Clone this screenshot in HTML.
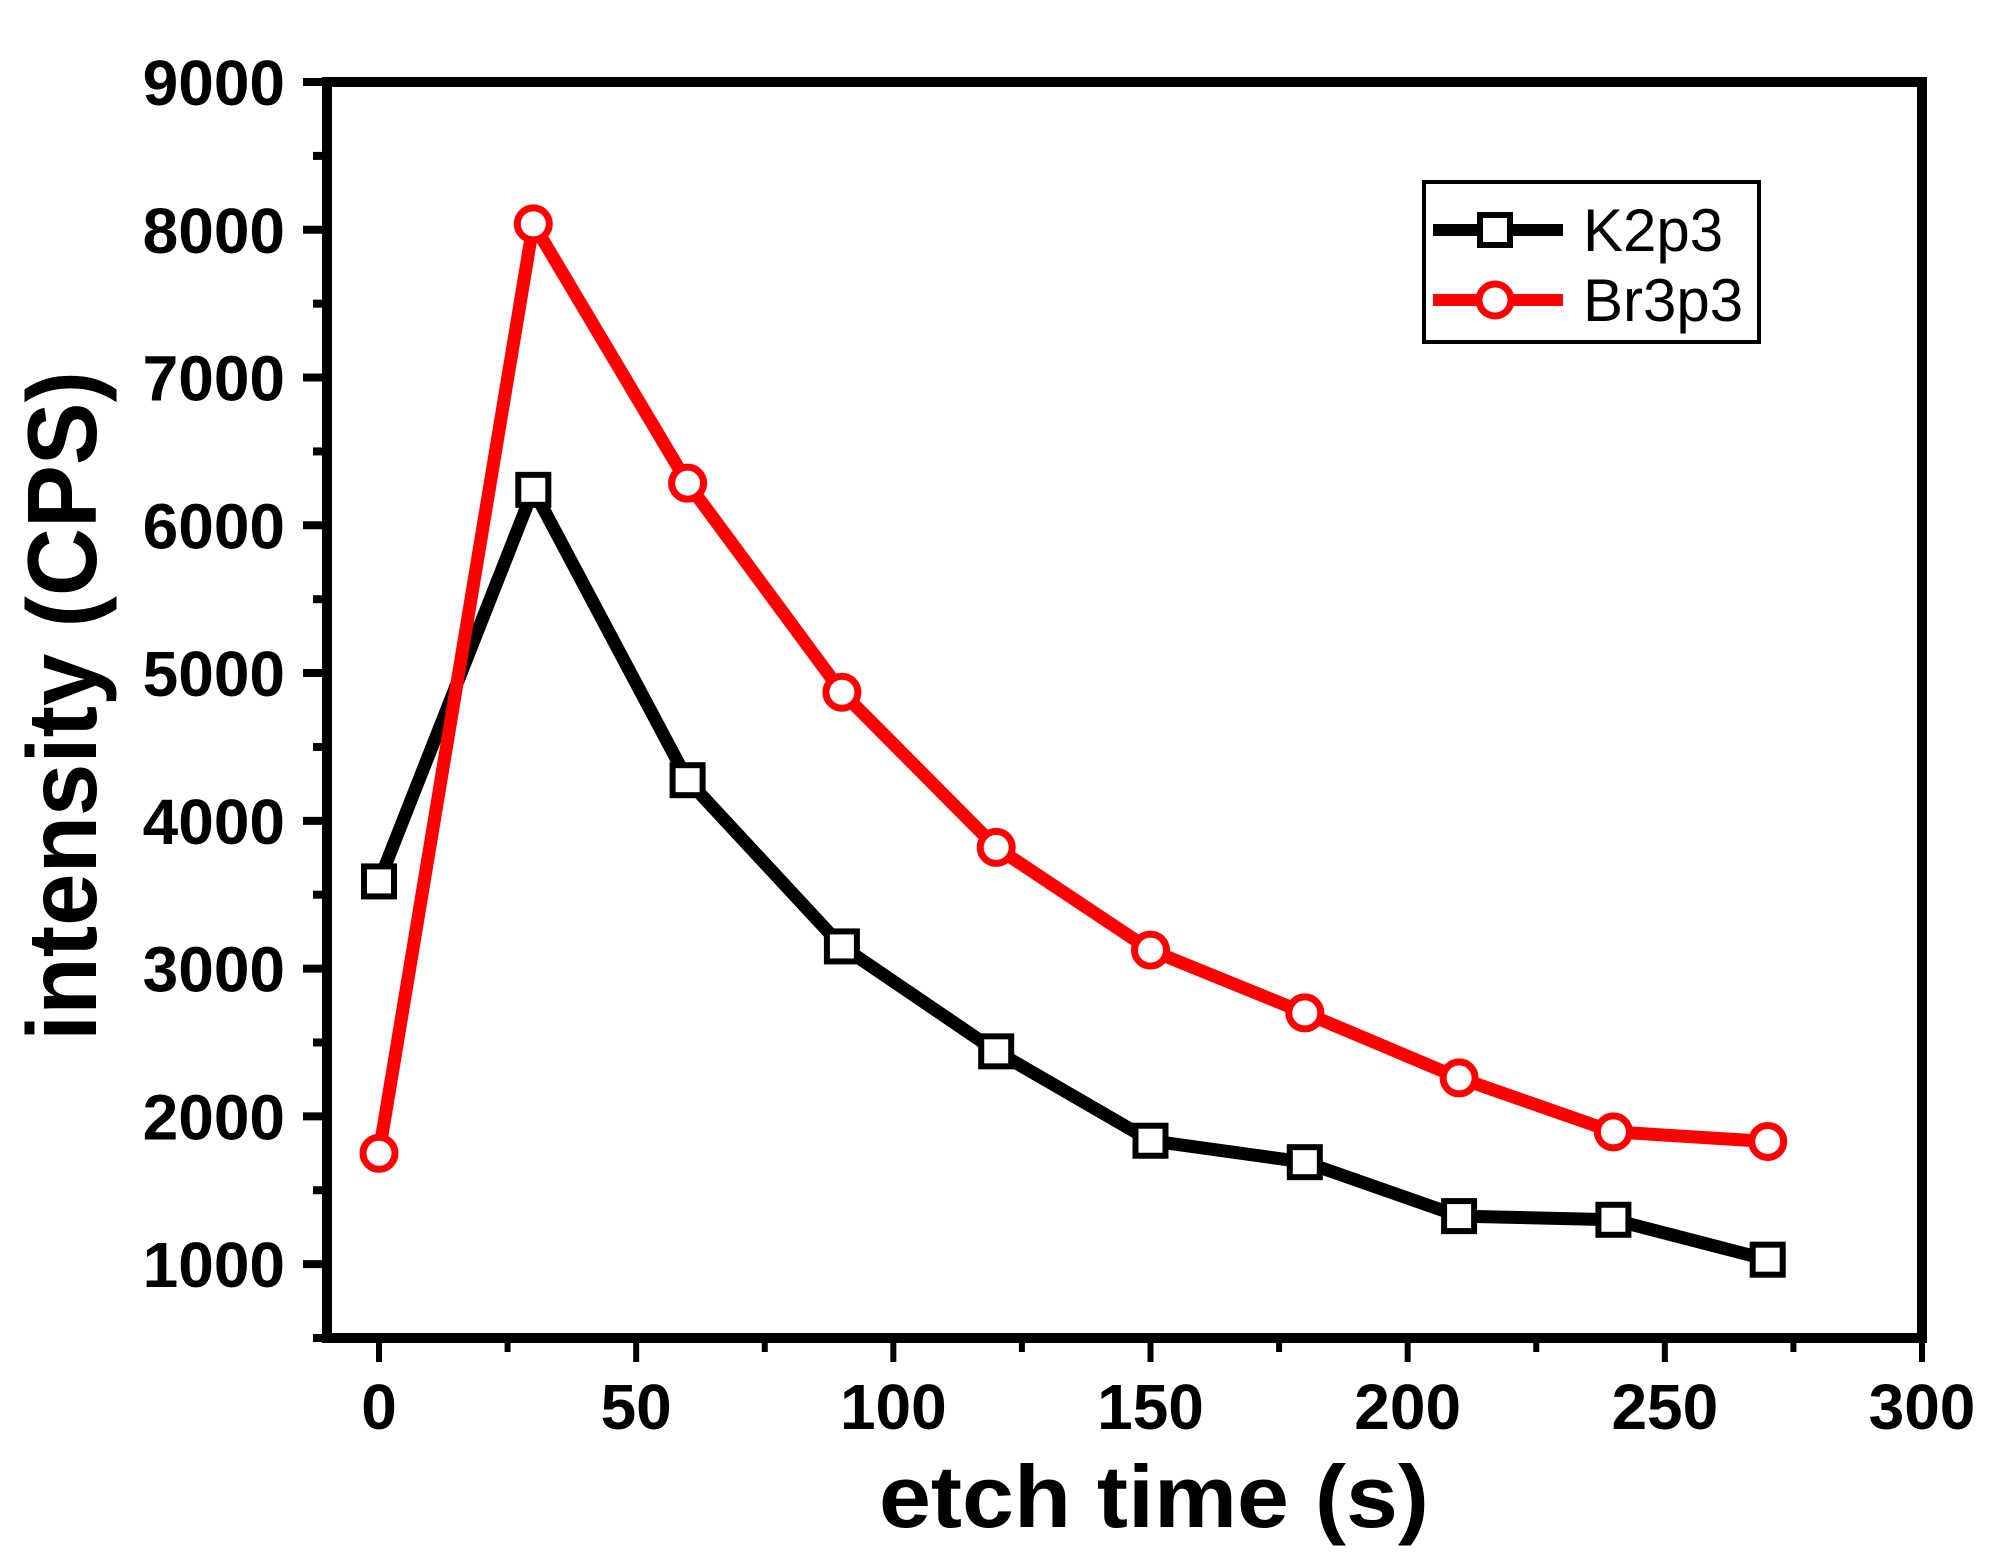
<!DOCTYPE html>
<html><head><meta charset="utf-8"><style>
html,body{margin:0;padding:0;background:#fff;}
svg{display:block;}
text{font-family:"Liberation Sans",Arial,sans-serif;}
</style></head><body>
<svg id="chart" width="2004" height="1565" viewBox="0 0 2004 1565" xmlns="http://www.w3.org/2000/svg">
<g id="axes"></g>
<g id="series"></g>
<g id="legend">
  <rect x="1424" y="182" width="335" height="160" fill="#fff" stroke="#000" stroke-width="4"/>
  <g>
    <line x1="1433" y1="230" x2="1563" y2="230" stroke="#000" stroke-width="12"/>
    <rect x="1480" y="215" width="30" height="30" fill="#fff" stroke="#000" stroke-width="6"/>
    <text x="1583" y="251" font-size="60" fill="#000">K2p3</text>
  </g>
  <g>
    <line x1="1433" y1="300" x2="1563" y2="300" stroke="#f00" stroke-width="12"/>
    <circle cx="1495" cy="300" r="16" fill="#fff" stroke="#f00" stroke-width="7"/>
    <text x="1583" y="321" font-size="60" fill="#000">Br3p3</text>
  </g>
</g>
<text x="1154" y="1527" font-size="88" font-weight="bold" text-anchor="middle" textLength="550" lengthAdjust="spacingAndGlyphs">etch time (s)</text>
<text transform="translate(96,706) rotate(-90)" font-size="98" font-weight="bold" text-anchor="middle" textLength="670" lengthAdjust="spacingAndGlyphs">intensity (CPS)</text>
</svg>
<script>
const times = [0,30,60,90,120,150,180,210,240,270];
const k2p3 = [3590,6240,4275,3150,2440,1835,1690,1325,1300,1030];
const br3p3 = [1750,8040,6285,4870,3820,3125,2700,2260,1895,1830];
const xTicks = [0,50,100,150,200,250,300];
const yTicks = [1000,2000,3000,4000,5000,6000,7000,8000,9000];
const xMin=0,xMax=300,yMin=500,yMax=9000;

const NS="http://www.w3.org/2000/svg";
const L=327,R=1922,T=82,B=1338,X0=379;
function sx(v){return X0+(v-xMin)/(xMax-xMin)*(R-X0);}
function sy(v){return B-(v-yMin)/(yMax-yMin)*(B-T);}
function mk(tag,attrs,parent){const e=document.createElementNS(NS,tag);for(const k in attrs)e.setAttribute(k,attrs[k]);parent.appendChild(e);return e;}
const axes=document.getElementById('axes');
const series=document.getElementById('series');

let f=mk('rect',{x:L,y:T,width:R-L,height:B-T,fill:'none',stroke:'#000','stroke-width':10},axes);



xTicks.forEach(t=>{
  const x=sx(t);
  let l=mk('line',{x1:x,y1:B,x2:x,y2:B+24,stroke:'#000','stroke-width':6},axes);
  
  
  let tx=mk('text',{x:x,y:1429,'font-size':64,'font-weight':'bold','text-anchor':'middle'},axes);
  tx.textContent=t;
  
  
});
for(let i=0;i<xTicks.length-1;i++){
  const x=sx((xTicks[i]+xTicks[i+1])/2);
  let l=mk('line',{x1:x,y1:B,x2:x,y2:B+14,stroke:'#000','stroke-width':6},axes);
  
  
}
yTicks.forEach(t=>{
  const y=sy(t);
  let l=mk('line',{x1:L,y1:y,x2:L-24,y2:y,stroke:'#000','stroke-width':8},axes);
  
  
  let tx=mk('text',{x:285,y:y+23,'font-size':64,'font-weight':'bold','text-anchor':'end'},axes);
  tx.textContent=t;
  
  
});
for(let i=0;i<yTicks.length;i++){
  const y=sy(yTicks[i]-500);
  let l=mk('line',{x1:L,y1:y,x2:L-14,y2:y,stroke:'#000','stroke-width':8},axes);
  
  
}

function drawSeries(vals,color,name,shape){
  const g=mk('g',{},series);
  
  
  const pts=times.map((t,i)=>sx(t)+','+sy(vals[i])).join(' ');
  let pl=mk('polyline',{points:pts,fill:'none',stroke:color,'stroke-width':13,'stroke-linejoin':'miter'},g);
  
  
  times.forEach((t,i)=>{
    const x=sx(t),y=sy(vals[i]);
    let m;
    if(shape==='square') m=mk('rect',{x:x-15,y:y-15,width:30,height:30,fill:'#fff',stroke:color,'stroke-width':6},g);
    else m=mk('circle',{cx:x,cy:y,r:16,fill:'#fff',stroke:color,'stroke-width':7},g);
    
    
  });
}
drawSeries(k2p3,'#000','k2p3','square');
drawSeries(br3p3,'#f00','br3p3','circle');
</script>
</body></html>
